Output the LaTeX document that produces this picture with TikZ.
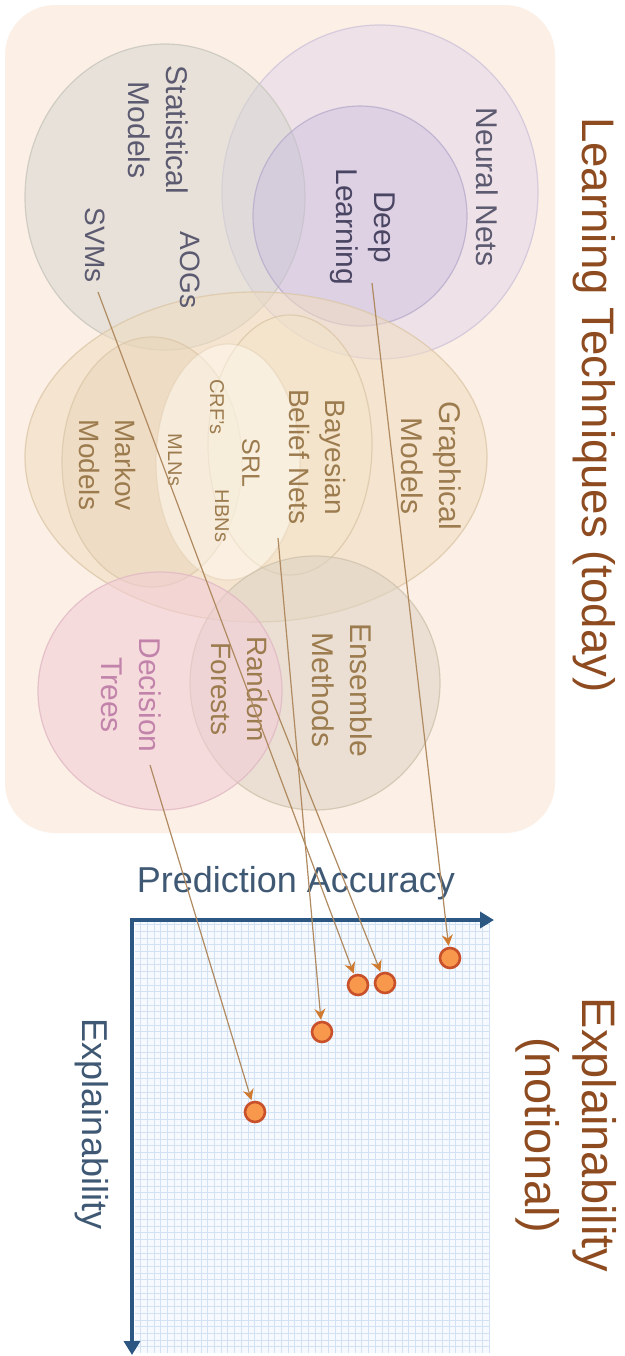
\documentclass[tikz,border=0pt]{standalone}
\usepackage{fontspec}
\setmainfont{Liberation Sans}
\usetikzlibrary{arrows.meta}
\definecolor{bgpeach}{HTML}{FCEFE5}
\definecolor{nnfill}{HTML}{E3D8EC}
\definecolor{dlfill}{HTML}{C9BEDD}
\definecolor{smfill}{HTML}{D6D6D0}
\definecolor{gmfill}{HTML}{F0DCC0}
\definecolor{mmfill}{HTML}{E6D2B4}
\definecolor{bbfill}{HTML}{F3E6C6}
\definecolor{srlfill}{HTML}{FFFBF2}
\definecolor{emfill}{HTML}{DCD3C3}
\definecolor{dtfill}{HTML}{F2CCD6}
\definecolor{nnline}{HTML}{CFC3DA}
\definecolor{dlline}{HTML}{B8ACCD}
\definecolor{smline}{HTML}{C8C6BE}
\definecolor{gmline}{HTML}{DCC7A8}
\definecolor{emline}{HTML}{CFC3AE}
\definecolor{dtline}{HTML}{E0B8C4}
\definecolor{slate}{HTML}{5C5A70}
\definecolor{dlslate}{HTML}{4A4562}
\definecolor{tan}{HTML}{9C7C4E}
\definecolor{pinktext}{HTML}{C283AB}
\definecolor{titlebrown}{HTML}{8E4B20}
\definecolor{axislbl}{HTML}{3F5873}
\definecolor{axisblue}{HTML}{2C5783}
\definecolor{arrline}{HTML}{B08A60}
\definecolor{arrhead}{HTML}{D07A30}
\definecolor{dotfill}{HTML}{F8984C}
\definecolor{dotdraw}{HTML}{C8502A}
\definecolor{gridbg}{HTML}{F6F9FE}
\definecolor{gridline}{HTML}{D3E2F3}
\begin{document}
\begin{tikzpicture}[x=0.5pt,y=-0.5pt,
  blob/.style={fill opacity=0.55, draw opacity=0.8, line width=0.6pt},
  lbl/.style={rotate=-90, align=center, inner sep=1pt, font=\fontsize{15}{19}\selectfont},
  midlbl/.style={lbl, font=\fontsize{14}{18}\selectfont},
  smalllbl/.style={rotate=-90, inner sep=1pt, text=tan, font=\fontsize{10}{12}\selectfont},
  dot/.style={circle, fill=dotfill, draw=dotdraw, line width=1.3pt, minimum size=10pt, inner sep=0pt},
  arr/.style={draw=arrline, line width=0.6pt, shorten >=0.5pt, -{Stealth[length=5.5pt,width=5.5pt,color=arrhead]}},
  axis/.style={draw=axisblue, line width=2pt, {Triangle[length=7pt,width=8pt]}-{Triangle[length=7pt,width=8pt]}}
]
\useasboundingbox (0,0) rectangle (625,1356);
\fill[white] (0,0) rectangle (625,1356);
% background panel
\fill[bgpeach, rounded corners=25pt] (5,5) rectangle (555,833);
% sets
\path[blob, fill=nnfill, draw=nnline] (380,192) ellipse [x radius=79pt, y radius=83.5pt];
\path[blob, fill=smfill, draw=smline] (165,197) ellipse [x radius=70pt, y radius=76.5pt];
\path[blob, fill=dlfill, draw=dlline, fill opacity=0.45] (360,216) ellipse [x radius=53.5pt, y radius=55pt];
\path[blob, fill=gmfill, draw=gmline] (256,457) ellipse [x radius=115.5pt, y radius=82.5pt];
\path[blob, fill=mmfill, draw=gmline, fill opacity=0.4] (152,462) ellipse [x radius=45pt, y radius=62.5pt];
\path[blob, fill=bbfill, draw=gmline, fill opacity=0.4] (290,445) ellipse [x radius=41pt, y radius=65pt];
\path[blob, fill=srlfill, draw=gmline, fill opacity=0.5, draw opacity=0.4] (228,462) ellipse [x radius=36pt, y radius=59pt];
\path[blob, fill=emfill, draw=emline] (315,683) ellipse [x radius=62.5pt, y radius=63.5pt];
\path[blob, fill=dtfill, draw=dtline] (160,691) ellipse [x radius=61pt, y radius=59.5pt];
% labels
\node[lbl, text=slate] (nn) at (487,187) {Neural Nets};
\node[lbl, text=dlslate] (dl) at (363,227) {Deep\\Learning};
\node[lbl, text=slate] (sm) at (158,130) {Statistical\\Models};
\node[midlbl, text=slate] (aog) at (190,270) {AOGs};
\node[midlbl, text=slate] (svm) at (95,245) {SVMs};
\node[lbl, text=tan] (gm) at (431,466) {Graphical\\Models};
\node[midlbl, text=tan] (bbn) at (318,457) {Bayesian\\Belief Nets};
\node[rotate=-90, inner sep=1pt, text=tan, font=\fontsize{12.5}{15}\selectfont] (srl) at (251,463) {SRL};
\node[smalllbl] (crf) at (217,407) {CRF's};
\node[smalllbl] (hbn) at (222,516) {HBNs};
\node[smalllbl] (mln) at (175,460) {MLNs};
\node[midlbl, text=tan] (mm) at (108,465) {Markov\\Models};
\node[lbl, text=tan] (em) at (342,690) {Ensemble\\Methods};
\node[midlbl, text=tan] (rf) at (240,689) {Random\\Forests};
\node[lbl, text=pinktext] (dt) at (131,695) {Decision\\Trees};
% titles
\node[rotate=-90, inner sep=0pt, text=titlebrown, font=\fontsize{22.8}{27}\selectfont] (title) at (594,405) {Learning Techniques (today)};
\node[rotate=-90, align=center, inner sep=0pt, text=titlebrown, font=\fontsize{23.5}{28.5}\selectfont] (expl) at (566,1135) {Explainability\\(notional)};
% chart
\fill[gridbg] (135,922) rectangle (490,1353);
\draw[gridline, line width=0.4pt, step=3.35pt] (135,1353) grid (490,922);
\node[inner sep=0pt, text=axislbl, font=\fontsize{18}{22}\selectfont] (pa) at (296,883) {Prediction Accuracy};
\node[rotate=-90, inner sep=0pt, text=axislbl, font=\fontsize{18}{22}\selectfont] (ex) at (92,1124) {Explainability};
\coordinate (O) at (132,920);
\coordinate (XE) at (494,920);
\coordinate (YE) at (132,1355);
\draw[axis] (XE) -- (O) -- (YE);
% points
\node[dot] (d1) at (450,958) {};
\node[dot] (d2) at (358,985) {};
\node[dot] (d3) at (385,983) {};
\node[dot] (d4) at (322,1032) {};
\node[dot] (d5) at (255,1112) {};
% arrow start points
\coordinate (sDL) at (372,283);
\coordinate (sSVM) at (98,292);
\coordinate (sRF) at (268,690);
\coordinate (sBBN) at (278,538);
\coordinate (sDT) at (150,765);
\draw[arr] (sDL) -- (d1);
\draw[arr] (sSVM) -- (d2);
\draw[arr] (sRF) -- (d3);
\draw[arr] (sBBN) -- (d4);
\draw[arr] (sDT) -- (d5);
\end{tikzpicture}
\end{document}
